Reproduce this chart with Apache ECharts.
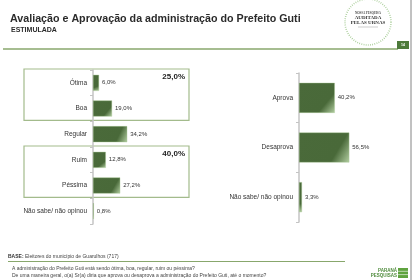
<!DOCTYPE html>
<html>
<head>
<meta charset="utf-8">
<title>Avaliação e Aprovação</title>
<script src="https://cdn.jsdelivr.net/npm/echarts@6/dist/echarts.min.js"></script>
<style>
  html, body { margin: 0; padding: 0; background: #fff; }
  #main { width: 420px; height: 280px; }
</style>
</head>
<body>
<div id="main"></div>
<script>
// dados
var avalCats = ['Ótima', 'Boa', 'Regular', 'Ruim', 'Péssima', 'Não sabe/ não opinou'];
var avalVals = [6.0, 19.0, 34.2, 12.8, 27.2, 0.8];
var aprovCats = ['Aprova', 'Desaprova', 'Não sabe/ não opinou'];
var aprovVals = [40.2, 56.5, 3.3];
// grupos (positivo = Ótima+Boa, negativo = Ruim+Péssima)
var grupos = [[0, 1], [3, 4]];

var FONT = 'Arial, "Liberation Sans", sans-serif';
var verde = '#88a76c';

function pct(v) { return v.toFixed(1).replace('.', ',') + '%'; }

var barColor = new echarts.graphic.LinearGradient(0, 0, 1, 1, [
  { offset: 0, color: '#4a6a3a' },
  { offset: 0.72, color: '#496939' },
  { offset: 1, color: '#b3cfa2' }
]);

var myChart = echarts.init(document.getElementById('main'));

function eixoY(idx, cats) {
  return {
    type: 'category', gridIndex: idx, data: cats, inverse: true,
    axisLine: { show: true, lineStyle: { color: '#c4c4c4', width: 1.5 } },
    axisTick: { show: true, length: 3, lineStyle: { color: '#c4c4c4' } },
    axisLabel: { color: '#333', fontSize: 6.5, fontFamily: FONT, margin: 6 }
  };
}

function serie(idx, vals, w) {
  return {
    type: 'bar', xAxisIndex: idx, yAxisIndex: idx, data: vals, barWidth: w,
    itemStyle: { color: barColor, borderColor: '#a9c796', borderWidth: 0.4 },
    label: {
      show: true, position: 'right', distance: 3, color: '#333',
      fontSize: 6, fontFamily: FONT,
      formatter: function (p) { return pct(p.value); }
    },
    animation: false
  };
}

var option = {
  animation: false,
  grid: [
    { left: 93, top: 70, width: 100, height: 154 },
    { left: 299, top: 73, width: 89, height: 149 }
  ],
  xAxis: [
    { type: 'value', gridIndex: 0, min: 0, max: 100, show: false },
    { type: 'value', gridIndex: 1, min: 0, max: 100, show: false }
  ],
  yAxis: [eixoY(0, avalCats), eixoY(1, aprovCats)],
  series: [serie(0, avalVals, 16), serie(1, aprovVals, 30)]
};
myChart.setOption(option);

// caixas dos grupos calculadas a partir da escala
var extras = [];
grupos.forEach(function (g) {
  var y0 = myChart.convertToPixel({ yAxisIndex: 0 }, g[0]);
  var y1 = myChart.convertToPixel({ yAxisIndex: 0 }, g[1]);
  var meio = (y1 - y0) / 2;
  var top = y0 - meio, bot = y1 + meio;
  var soma = g.reduce(function (s, i) { return s + avalVals[i]; }, 0);
  extras.push({
    type: 'rect', shape: { x: 24, y: top - 1, width: 165, height: bot - top },
    style: { fill: 'none', stroke: '#a3bb8c', lineWidth: 1.2 }, z: 0
  });
  extras.push({
    type: 'text', x: 185, y: top + 7,
    style: { text: pct(soma), fill: '#222', font: 'bold 8px ' + FONT, textAlign: 'right', textVerticalAlign: 'middle' }
  });
});

// cabeçalho e rodapé
var deco = [
  { type: 'text', x: 10, y: 19, style: { text: 'Avaliação e Aprovação da administração do Prefeito Guti', fill: '#2b2b2b', font: 'bold 10.7px ' + FONT, textVerticalAlign: 'middle' } },
  { type: 'text', x: 11, y: 30, style: { text: 'ESTIMULADA', fill: '#2b2b2b', font: 'bold 7px ' + FONT, textVerticalAlign: 'middle' } },
  { type: 'line', shape: { x1: 3, y1: 49, x2: 398, y2: 49 }, style: { stroke: verde, lineWidth: 1.3 } },
  { type: 'rect', shape: { x: 397, y: 41, width: 12, height: 8 }, style: { fill: '#4d7a3a' } },
  { type: 'text', x: 403, y: 45, style: { text: '14', fill: '#fff', font: 'bold 3.5px ' + FONT, textAlign: 'center', textVerticalAlign: 'middle' } },
  { type: 'line', shape: { x1: 411, y1: 0, x2: 411, y2: 280 }, style: { stroke: '#666', lineWidth: 0.8 } },
  // selo
  { type: 'circle', shape: { cx: 368, cy: 22, r: 23 }, style: { fill: 'none', stroke: '#a6cc95', lineWidth: 1.6, lineDash: [0.8, 1.4] } },
  { type: 'text', x: 368, y: 13, style: { text: 'NOSSA PESQUISA', fill: '#444', font: 'bold 3px serif', textAlign: 'center', textVerticalAlign: 'middle' } },
  { type: 'text', x: 368, y: 18, style: { text: 'AUDITADA', fill: '#333', font: 'bold 5px serif', textAlign: 'center', textVerticalAlign: 'middle' } },
  { type: 'text', x: 368, y: 23, style: { text: 'PELAS URNAS', fill: '#333', font: 'bold 5px serif', textAlign: 'center', textVerticalAlign: 'middle' } },
  { type: 'line', shape: { x1: 358, y1: 27, x2: 378, y2: 27 }, style: { stroke: '#999', lineWidth: 0.5 } },
  // rodapé
  { type: 'text', x: 8, y: 257, style: { rich: { b: { font: 'bold 5px ' + FONT, fill: '#333' }, n: { font: '5px ' + FONT, fill: '#444' } }, text: '{b|BASE:}{n| Eleitores do município de Guarulhos (717)}', textVerticalAlign: 'middle' } },
  { type: 'line', shape: { x1: 8, y1: 261.5, x2: 345, y2: 261.5 }, style: { stroke: verde, lineWidth: 1 } },
  { type: 'text', x: 12, y: 269, style: { text: 'A administração do Prefeito Guti está sendo ótima, boa, regular, ruim ou péssima?', fill: '#444', font: '5px ' + FONT, textVerticalAlign: 'middle' } },
  { type: 'text', x: 12, y: 275.5, style: { text: 'De uma maneira geral, o(a) Sr(a) diria que aprova ou desaprova a administração do Prefeito Guti, até o momento?', fill: '#444', font: '5px ' + FONT, textVerticalAlign: 'middle' } },
  { type: 'text', x: 397, y: 271, style: { text: 'PARANÁ', fill: '#4d8a3a', font: 'bold 4.5px ' + FONT, textAlign: 'right', textVerticalAlign: 'middle' } },
  { type: 'text', x: 397, y: 276, style: { text: 'PESQUISAS', fill: '#4d8a3a', font: 'bold 4.5px ' + FONT, textAlign: 'right', textVerticalAlign: 'middle' } },
  { type: 'rect', shape: { x: 398, y: 268, width: 10, height: 10 }, style: { fill: '#5fa33f' } },
  { type: 'line', shape: { x1: 398, y1: 271.3, x2: 408, y2: 271.3 }, style: { stroke: '#fff', lineWidth: 0.6 } },
  { type: 'line', shape: { x1: 398, y1: 274.6, x2: 408, y2: 274.6 }, style: { stroke: '#fff', lineWidth: 0.6 } }
];

myChart.setOption({ graphic: deco.concat(extras) });
</script>
</body>
</html>
